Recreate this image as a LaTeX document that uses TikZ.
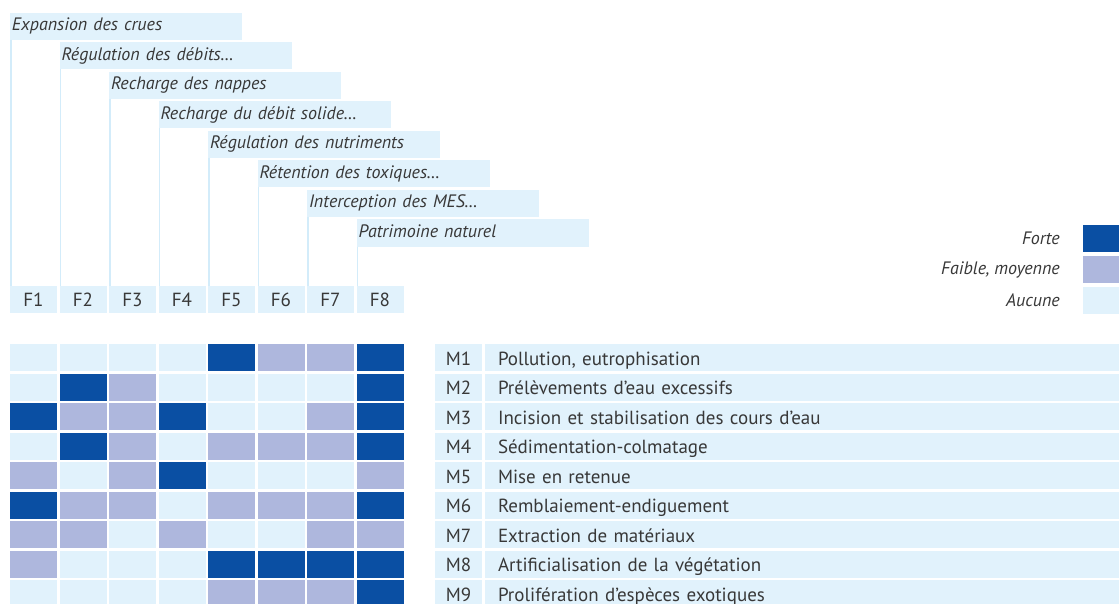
\documentclass[tikz,border=0pt]{standalone}
\usepackage{fontspec}
\setmainfont{PT Sans}
\definecolor{cdark}{HTML}{0A4FA3}
\definecolor{cmed}{HTML}{AEB7DD}
\definecolor{clight}{HTML}{E1F2FC}
\definecolor{cline}{HTML}{D3ECFA}
\definecolor{ctext}{HTML}{383838}
\begin{document}
\begin{tikzpicture}[x=1pt,y=-1pt,
  txt/.style={font=\fontsize{19}{22}\selectfont,text=ctext},
  itxt/.style={font=\fontsize{18}{21}\selectfont\itshape,text=ctext},
  cell/.style={minimum width=47pt,minimum height=27pt,inner sep=0pt,anchor=north west,outer sep=0pt},
  hdr/.style={itxt,fill=clight,minimum height=27pt,inner xsep=2pt,inner ysep=0pt,text width=228pt,text height=12.5pt,text depth=4pt,align=left,anchor=north west,outer sep=0pt},
  fbox/.style={cell,fill=clight,txt,text height=14pt,text depth=0pt},
  mbox/.style={cell,fill=clight,txt,text height=15pt,text depth=0pt},
  lbox/.style={txt,fill=clight,minimum height=27pt,inner xsep=13pt,inner ysep=0pt,text width=620pt,text height=15pt,text depth=0pt,align=left,anchor=north west,outer sep=0pt},
  hline/.style={draw=cline,line width=1.5pt},
  legtxt/.style={itxt,anchor=east,inner sep=0pt},
  legbox/.style={minimum width=45pt,minimum height=27pt,inner sep=0pt,anchor=north west,outer sep=0pt}
]
\useasboundingbox (0,0) rectangle (1119,604);
\clip (0,0) rectangle (1119,604);
\fill[white] (0,0) rectangle (1119,604);

% header boxes
\foreach \t [count=\i from 0] in {Expansion des crues,Régulation des débits\ldots,Recharge des nappes,Recharge du débit solide\ldots,Régulation des nutriments,Rétention des toxiques\ldots,Interception des MES\ldots,Patrimoine naturel}{
  \pgfmathsetmacro{\hx}{10+49.5*\i}
  \pgfmathsetmacro{\hy}{13+29.5*\i}
  \node[hdr] (h\i) at (\hx,\hy) {\t};
}
% F labels
\foreach \i in {0,...,7}{
  \pgfmathsetmacro{\fx}{10+49.5*\i}
  \pgfmathtruncatemacro{\n}{\i+1}
  \node[fbox] (f\i) at (\fx,286) {F\n};
}
% connectors from header to F label
\foreach \i in {0,...,7}{
  \draw[hline] ([xshift=0.75pt]h\i.south west) -- ([xshift=0.75pt]f\i.north west);
}

% legend
\node[legbox,fill=cdark] (lf) at (1083,225) {};
\node[legbox,fill=cmed] (lm) at (1083,256) {};
\node[legbox,fill=clight] (la) at (1083,287) {};
\node[legtxt] (tf) at ([xshift=-23pt]lf.west) {Forte};
\node[legtxt] (tm) at ([xshift=-23pt]lm.west) {Faible, moyenne};
\node[legtxt] (ta) at ([xshift=-23pt]la.west) {Aucune};

% matrix
\def\colname#1{\ifcase#1 clight\or cmed\or cdark\fi}
\foreach \row [count=\j from 0] in {
  {0,0,0,0,2,1,1,2},
  {0,2,1,0,0,0,0,2},
  {2,1,1,2,0,0,1,2},
  {0,2,1,0,1,1,1,2},
  {1,0,1,2,0,0,0,1},
  {2,1,1,0,1,1,1,2},
  {1,1,0,1,0,0,1,1},
  {1,0,0,0,2,2,2,2},
  {0,0,0,0,1,1,1,2}}{
  \pgfmathsetmacro{\cy}{344+29.5*\j}
  \foreach \v [count=\i from 0] in \row {
    \pgfmathsetmacro{\cx}{10+49.5*\i}
    \node[cell,fill=\colname{\v}] (c\j-\i) at (\cx,\cy) {};
  }
}

% M labels
\foreach \t [count=\j from 0] in {{Pollution, eutrophisation},Prélèvements d'eau excessifs,Incision et stabilisation des cours d'eau,Sédimentation-colmatage,Mise en retenue,Remblaiement-endiguement,Extraction de matériaux,Artificialisation de la végétation,Prolifération d'espèces exotiques}{
  \pgfmathsetmacro{\cy}{344+29.5*\j}
  \pgfmathtruncatemacro{\n}{\j+1}
  \node[mbox] (m\j) at (435,\cy) {M\n};
  \node[lbox] (l\j) at (485,\cy) {\t};
}
\end{tikzpicture}
\end{document}
